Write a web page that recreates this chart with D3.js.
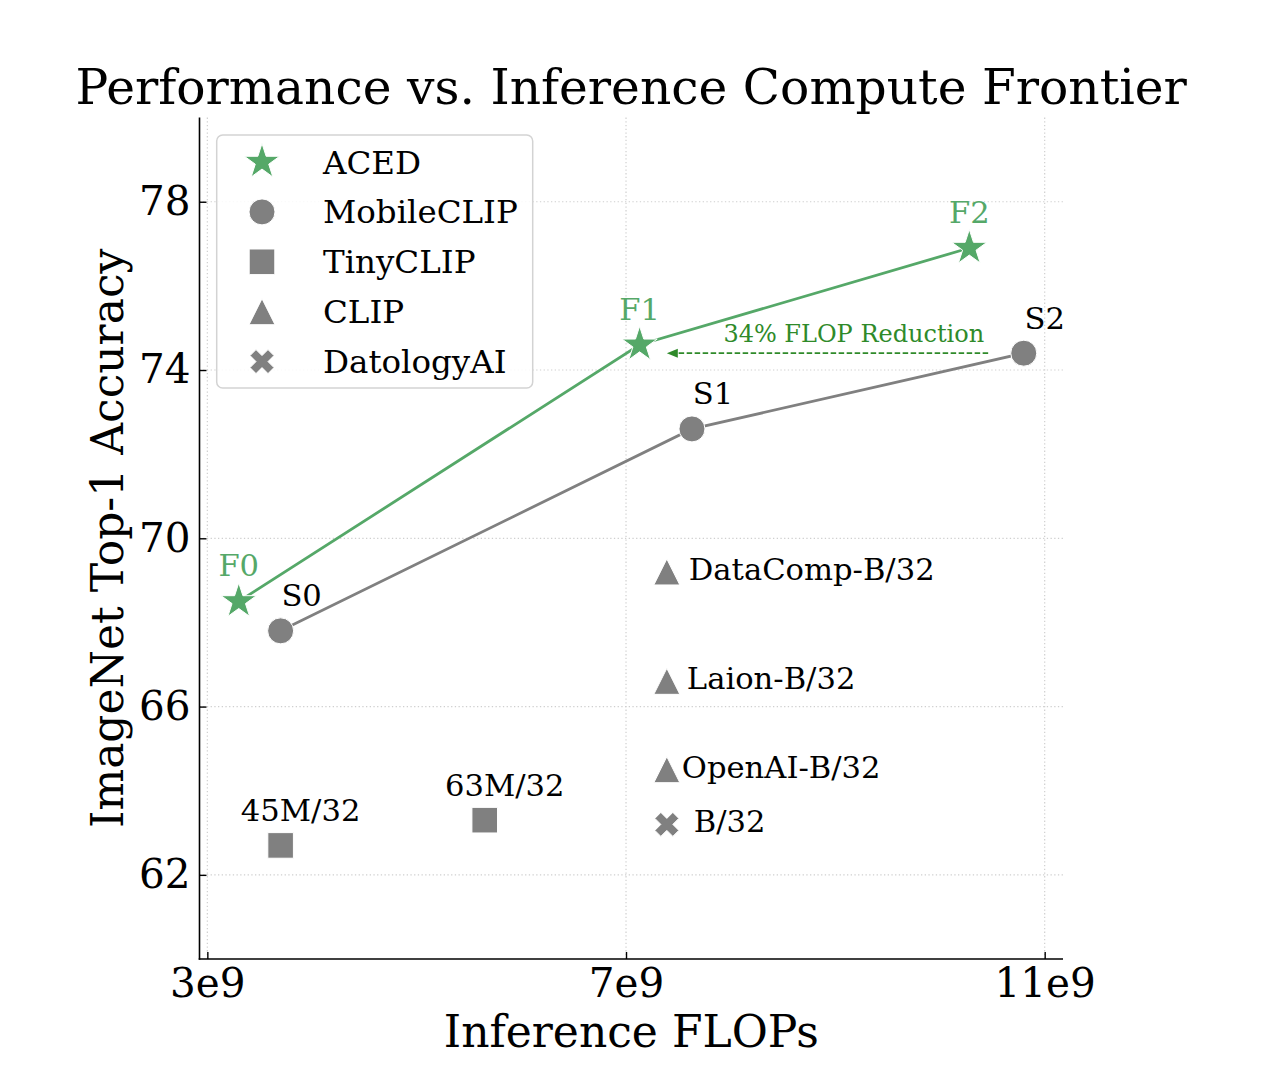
<!DOCTYPE html>
<html>
<head>
<meta charset="utf-8">
<script src="https://cdn.jsdelivr.net/npm/d3@7"></script>
<style>
  html, body { margin: 0; padding: 0; background: #fff; }
  svg { display: block; font-family: "DejaVu Serif", serif; }
</style>
</head>
<body>
<svg id="chart" width="1262" height="1078"></svg>
<script>
// ---------------- data ----------------
const acedLabels = ["F0", "F1", "F2"];
const acedFlops = [3.3e9, 7.13e9, 10.28e9];
const acedAcc = [68.5, 74.6, 76.9];

const mobileLabels = ["S0", "S1", "S2"];
const mobileFlops = [3.7e9, 7.63e9, 10.8e9];
const mobileAcc = [67.8, 72.6, 74.4];

const tinyLabels = ["45M/32", "63M/32"];
const tinyFlops = [3.7e9, 5.65e9];
const tinyAcc = [62.7, 63.3];

const clipLabels = ["DataComp-B/32", "Laion-B/32", "OpenAI-B/32"];
const clipFlops = [7.39e9, 7.39e9, 7.39e9];
const clipAcc = [69.2, 66.6, 64.5];

const datologyLabels = ["B/32"];
const datologyFlops = [7.39e9];
const datologyAcc = [63.2];

const legendNames = ["ACED", "MobileCLIP", "TinyCLIP", "CLIP", "DatologyAI"];
const xTicks = [3e9, 7e9, 11e9];
const xTickLabels = ["3e9", "7e9", "11e9"];
const yTicks = [62, 66, 70, 74, 78];
const yDomain = [60, 80];
const reductionText = "34% FLOP Reduction";
const reductionArrow = [10.46e9, 7.39e9]; // from, to (FLOPs) at S2 accuracy

// ---------------- styles ----------------
const GREEN = "#55A868";
const GRAY = "#808080";
const ARROW_GREEN = "#2f8a2a";
const clipLabelDx = [22, 20, 15];
const datologyLabelDx = [27];

const svg = d3.select("#chart");
const L = 199.5, R = 1063, T = 117.6, B = 959;

const allX = [...acedFlops, ...mobileFlops, ...tinyFlops, ...clipFlops, ...datologyFlops];
const xmin = d3.min(allX), xmax = d3.max(allX), pad = (xmax - xmin) * 0.05;
const x = d3.scaleLinear().domain([xmin - pad, xmax + pad]).range([L, R]);
const y = d3.scaleLinear().domain(yDomain).range([B, T]);

// ---------------- marker paths ----------------
function starPath(Rr) {
  const r = Rr * 0.381966, pts = [];
  for (let i = 0; i < 10; i++) {
    const a = -Math.PI / 2 + i * Math.PI / 5;
    const rad = i % 2 === 0 ? Rr : r;
    pts.push([rad * Math.cos(a), rad * Math.sin(a)]);
  }
  return "M" + pts.map(p => p.join(",")).join("L") + "Z";
}
function circlePath(r) { return d3.symbol(d3.symbolCircle, Math.PI * r * r)(); }
function squarePath(h) { return `M${-h},${-h}L${h},${-h}L${h},${h}L${-h},${h}Z`; }
function trianglePath(h) { return `M0,${-h}L${h},${h}L${-h},${h}Z`; }
function xPath(s) {
  const v = [[-1,-2],[0,-1],[1,-2],[2,-1],[1,0],[2,1],[1,2],[0,1],[-1,2],[-2,1],[-1,0],[-2,-1]];
  return "M" + v.map(p => [p[0] * s, p[1] * s].join(",")).join("L") + "Z";
}
const markers = {
  ACED: { d: starPath(18.5), fill: GREEN },
  MobileCLIP: { d: circlePath(13), fill: GRAY },
  TinyCLIP: { d: squarePath(12.8), fill: GRAY },
  CLIP: { d: trianglePath(13), fill: GRAY },
  DatologyAI: { d: xPath(6), fill: GRAY }
};

// ---------------- grid ----------------
const grid = svg.append("g").attr("stroke", "#cfcfcf").attr("stroke-width", 1.2)
  .attr("stroke-dasharray", "1.3,2.4");
grid.selectAll("line.gx").data(xTicks).join("line")
  .attr("x1", d => x(d)).attr("x2", d => x(d)).attr("y1", T).attr("y2", B);
grid.selectAll("line.gy").data(yTicks).join("line")
  .attr("y1", d => y(d)).attr("y2", d => y(d)).attr("x1", L).attr("x2", R);

// ---------------- axes ----------------
const xAxis = d3.axisBottom(x).tickValues(xTicks).tickFormat((d, i) => xTickLabels[i])
  .tickSizeInner(-7).tickSizeOuter(0).tickPadding(9);
const yAxis = d3.axisLeft(y).tickValues(yTicks).tickFormat(d3.format("d"))
  .tickSizeInner(-7).tickSizeOuter(0).tickPadding(9);

const gx = svg.append("g").attr("transform", `translate(0,${B})`).call(xAxis);
const gy = svg.append("g").attr("transform", `translate(${L},0)`).call(yAxis);
[gx, gy].forEach(g => {
  g.select(".domain").attr("stroke", "#000").attr("stroke-width", 1.6);
  g.selectAll(".tick line").attr("stroke", "#000").attr("stroke-width", 1.4);
  g.selectAll(".tick text").attr("font-family", "DejaVu Serif").attr("font-size", 40.5).attr("fill", "#000");
});
gx.select(".domain").attr("d", `M${L - 0.8},0H${R}`);
gy.select(".domain").attr("d", `M0,${B + 0.8}V${T}`);

// ---------------- lines ----------------
const line = d3.line().x(d => x(d[0])).y(d => y(d[1]));
svg.append("path").datum(acedFlops.map((f, i) => [f, acedAcc[i]]))
  .attr("d", line).attr("fill", "none").attr("stroke", GREEN).attr("stroke-width", 2.8);
svg.append("path").datum(mobileFlops.map((f, i) => [f, mobileAcc[i]]))
  .attr("d", line).attr("fill", "none").attr("stroke", GRAY).attr("stroke-width", 2.8);

// ---------------- arrow annotation ----------------
const ay = y(mobileAcc[2]);
const ax0 = x(reductionArrow[0]), ax1 = x(reductionArrow[1]);
svg.append("line")
  .attr("x1", ax0).attr("x2", ax1 + 11)
  .attr("y1", ay).attr("y2", ay)
  .attr("stroke", ARROW_GREEN).attr("stroke-width", 1.7).attr("stroke-dasharray", "5.5,2.5");
svg.append("path")
  .attr("d", `M${ax1},${ay}L${ax1 + 11},${ay - 4.5}L${ax1 + 11},${ay + 4.5}Z`)
  .attr("fill", ARROW_GREEN);
svg.append("text").attr("x", ax0 - 4).attr("y", ay - 11)
  .attr("text-anchor", "end").attr("font-size", 24).attr("fill", ARROW_GREEN).text(reductionText);

// ---------------- markers ----------------
function drawMarkers(name, xs, ys) {
  const m = markers[name];
  svg.append("g").selectAll("path").data(xs).join("path")
    .attr("d", m.d).attr("fill", m.fill).attr("stroke", "#fff").attr("stroke-width", 1)
    .attr("transform", (d, i) => `translate(${x(d)},${y(ys[i])})`);
}
drawMarkers("ACED", acedFlops, acedAcc);
drawMarkers("MobileCLIP", mobileFlops, mobileAcc);
drawMarkers("TinyCLIP", tinyFlops, tinyAcc);
drawMarkers("CLIP", clipFlops, clipAcc);
drawMarkers("DatologyAI", datologyFlops, datologyAcc);

// ---------------- point labels ----------------
const lbl = svg.append("g").attr("font-size", 30.6);
lbl.selectAll("text.a").data(acedLabels).join("text")
  .attr("x", (d, i) => x(acedFlops[i])).attr("y", (d, i) => y(acedAcc[i]) - 25)
  .attr("text-anchor", "middle").attr("fill", GREEN).text(d => d);
lbl.selectAll("text.m").data(mobileLabels).join("text")
  .attr("x", (d, i) => x(mobileFlops[i]) + 21).attr("y", (d, i) => y(mobileAcc[i]) - 24.5)
  .attr("text-anchor", "middle").attr("fill", "#000").text(d => d);
lbl.selectAll("text.t").data(tinyLabels).join("text")
  .attr("x", (d, i) => x(tinyFlops[i]) + 20).attr("y", (d, i) => y(tinyAcc[i]) - 24.5)
  .attr("text-anchor", "middle").attr("fill", "#000").text(d => d);
lbl.selectAll("text.c").data(clipLabels).join("text")
  .attr("x", (d, i) => x(clipFlops[i]) + clipLabelDx[i]).attr("y", (d, i) => y(clipAcc[i]) + 8)
  .attr("text-anchor", "start").attr("fill", "#000").text(d => d);
lbl.selectAll("text.d").data(datologyLabels).join("text")
  .attr("x", (d, i) => x(datologyFlops[i]) + datologyLabelDx[i]).attr("y", (d, i) => y(datologyAcc[i]) + 8)
  .attr("text-anchor", "start").attr("fill", "#000").text(d => d);

// ---------------- legend ----------------
const lg = svg.append("g");
lg.append("rect").attr("x", 216.7).attr("y", 135).attr("width", 316).attr("height", 253)
  .attr("rx", 6).attr("fill", "#fff").attr("fill-opacity", 0.85)
  .attr("stroke", "#d3d3d3").attr("stroke-width", 1.5);
legendNames.forEach((n, i) => {
  const cy = 162 + i * 49.9;
  lg.append("path").attr("d", markers[n].d).attr("fill", markers[n].fill)
    .attr("stroke", "#fff").attr("stroke-width", 1)
    .attr("transform", `translate(262,${cy})`);
  lg.append("text").attr("x", 323).attr("y", cy + 11.5).attr("font-size", 32.5)
    .attr("fill", "#000").text(n);
});

// ---------------- titles ----------------
svg.append("text").attr("x", (L + R) / 2).attr("y", 104).attr("text-anchor", "middle")
  .attr("font-size", 48.7).attr("fill", "#000").text("Performance vs. Inference Compute Frontier");
svg.append("text").attr("x", (L + R) / 2).attr("y", 1046.5).attr("text-anchor", "middle")
  .attr("font-size", 44).attr("fill", "#000").text("Inference FLOPs");
svg.append("text").attr("transform", `translate(123,${(T + B) / 2}) rotate(-90)`)
  .attr("text-anchor", "middle").attr("font-size", 44).attr("fill", "#000")
  .text("ImageNet Top-1 Accuracy");
</script>
</body>
</html>
